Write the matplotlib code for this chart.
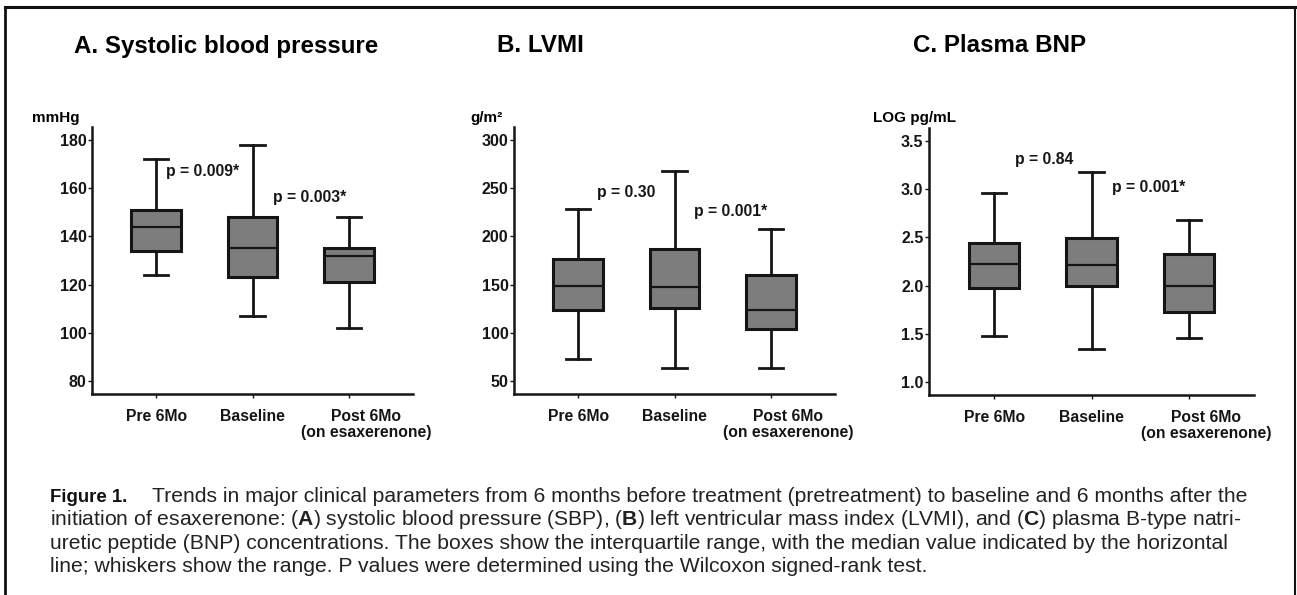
import matplotlib.pyplot as plt
from matplotlib.lines import Line2D

plt.rcParams["font.family"] = ["Liberation Sans", "DejaVu Sans"]
plt.rcParams["mathtext.fontset"] = "custom"
plt.rcParams["mathtext.rm"] = "Liberation Sans"
plt.rcParams["mathtext.bf"] = "Liberation Sans:bold"

groups = ["Pre 6Mo", "Baseline", "Post 6Mo\n(on esaxerenone)"]

# five-number summaries: whislo, q1, med, q3, whishi
sbp_stats = [[124, 134, 144, 151, 172], [107, 123, 135, 148, 178], [102, 121, 132, 135, 148]]
lvmi_stats = [[73, 124, 149, 177, 228], [63, 126, 148, 187, 268], [63, 104, 124, 160, 208]]
bnp_stats = [[1.48, 1.97, 2.22, 2.44, 2.96], [1.34, 2.00, 2.21, 2.49, 3.18], [1.46, 1.73, 2.00, 2.33, 2.68]]

titles = ["A. Systolic blood pressure", "B. LVMI", "C. Plasma BNP"]
units = ["mmHg", "g/m²", "LOG pg/mL"]
pvals_a = [("p = 0.009*", 1.10, 167), ("p = 0.003*", 2.21, 156)]
pvals_b = [("p = 0.30", 1.19, 246), ("p = 0.001*", 2.20, 226)]
pvals_c = [("p = 0.84", 1.215, 3.31), ("p = 0.001*", 2.215, 3.02)]

W, H = 1297, 595
fig = plt.figure(figsize=(W / 100, H / 100), dpi=100)


def px_axes(left, right, top, bottom):
    return fig.add_axes([left / W, 1 - bottom / H, (right - left) / W, (bottom - top) / H])


def panel(ax, stats, ylim, yticks, fmt, pvals):
    bxp_stats = [
        dict(whislo=s[0], q1=s[1], med=s[2], q3=s[3], whishi=s[4], fliers=[])
        for s in stats
    ]
    ax.bxp(
        bxp_stats,
        positions=[1, 2, 3],
        widths=0.52,
        patch_artist=True,
        showfliers=False,
        boxprops=dict(facecolor="#7d7d7d", edgecolor="#151515", linewidth=2.2),
        medianprops=dict(color="#151515", linewidth=1.6),
        whiskerprops=dict(color="#151515", linewidth=2.0),
        capprops=dict(color="#151515", linewidth=2.0),
        capwidths=0.25,
    )
    ax.set_xlim(0.33, 3.67)
    ax.set_ylim(*ylim)
    ax.set_yticks(yticks)
    ax.set_yticklabels([fmt.format(v) for v in yticks], fontsize=11.5, fontweight="bold")
    # two-line label sits a little right of its tick: put it on an unmarked minor tick
    ax.set_xticks([1, 2, 3])
    ax.set_xticklabels(groups[:2] + [""], fontsize=11.3, fontweight="bold")
    ax.set_xticks([3.18], minor=True)
    ax.set_xticklabels(groups[2:], minor=True, fontsize=11.3, fontweight="bold", linespacing=1.05)
    for side in ["top", "right"]:
        ax.spines[side].set_visible(False)
    for side in ["left", "bottom"]:
        ax.spines[side].set_linewidth(1.8)
        ax.spines[side].set_color("#151515")
    ax.tick_params(axis="y", length=3, width=1.0, pad=1, colors="#151515")
    ax.tick_params(axis="x", which="major", length=3, width=1.0, pad=8, colors="#151515")
    ax.tick_params(axis="x", which="minor", length=3, width=0, pad=8, colors="#151515")
    for txt, x, y in pvals:
        ax.text(x, y, txt, fontsize=11.3, fontweight="bold", ha="left", va="center", color="#151515")
    ax.set_facecolor("none")


ax_a = px_axes(92, 413, 127, 394)
ax_b = px_axes(514, 835, 127, 394)
ax_c = px_axes(929, 1254, 128, 395)

panel(ax_a, sbp_stats, (74.6, 185.4), [80, 100, 120, 140, 160, 180], "{:d}", pvals_a)
panel(ax_b, lvmi_stats, (36.5, 313.5), [50, 100, 150, 200, 250, 300], "{:d}", pvals_b)
panel(ax_c, bnp_stats, (0.865, 3.635), [1.0, 1.5, 2.0, 2.5, 3.0, 3.5], "{:.1f}", pvals_c)

# panel titles and unit labels
for title, x in zip(titles, [74, 497, 913]):
    fig.text(x / W, 1 - 46 / H, title, fontsize=17.4, fontweight="bold", ha="left", va="center")
for unit, x in zip(units, [32, 470, 873]):
    fig.text(x / W, 1 - 118 / H, unit, fontsize=11, fontweight="bold", ha="left", va="center")

# frame around the figure
frame_kw = dict(color="#111111", transform=fig.transFigure)
fig.add_artist(Line2D([5 / W, 1295 / W], [1 - 7 / H, 1 - 7 / H], linewidth=2.2, **frame_kw))
fig.add_artist(Line2D([5 / W, 5 / W], [1 - 7 / H, 0], linewidth=2.0, **frame_kw))
fig.add_artist(Line2D([1295 / W, 1295 / W], [1 - 7 / H, 0], linewidth=1.5, **frame_kw))

# caption
cap_kw = dict(fontsize=15.2, ha="left", va="baseline", color="#222222")
fig.text(50 / W, 1 - 502 / H, "Figure 1.", fontsize=13.4, fontweight="bold",
         ha="left", va="baseline", color="#111111")
fig.text(152 / W, 1 - 502 / H,
         "Trends in major clinical parameters from 6 months before treatment (pretreatment) to baseline and 6 months after the",
         **cap_kw)
cap_lines = [
    r"initiation of esaxerenone: ($\mathbf{A}$) systolic blood pressure (SBP), ($\mathbf{B}$) left ventricular mass index (LVMI), and ($\mathbf{C}$) plasma B-type natri-",
    "uretic peptide (BNP) concentrations. The boxes show the interquartile range, with the median value indicated by the horizontal",
    "line; whiskers show the range. P values were determined using the Wilcoxon signed-rank test.",
]
for i, line in enumerate(cap_lines):
    fig.text(50 / W, 1 - (525.3 + 23.3 * i) / H, line, **cap_kw)

fig.savefig("out.png", dpi=100)
